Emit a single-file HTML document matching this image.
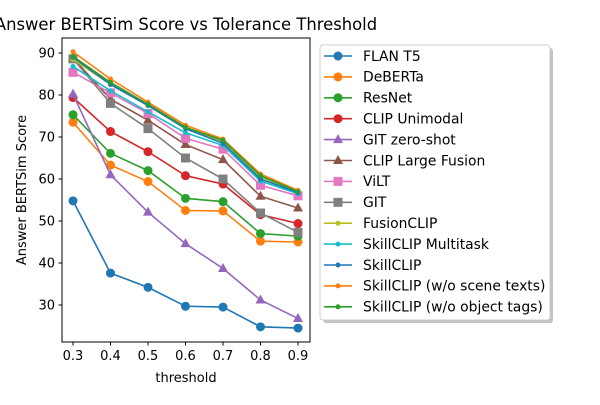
<!DOCTYPE html>
<html><head><meta charset="utf-8"><style>
body{margin:0;background:#fff;}
svg{font-family:"DejaVu Sans","Liberation Sans",sans-serif;}
</style></head><body>
<svg id="c" width="600" height="400" viewBox="0 0 600 400" xmlns="http://www.w3.org/2000/svg">
<text x="186" y="30" font-size="16.4" text-anchor="middle">Answer BERTSim Score vs Tolerance Threshold</text>
<g id="plot"></g>
<rect x="62" y="38" width="248" height="304" fill="none" stroke="#000" stroke-width="1"/>
<text x="186" y="382" font-size="13" text-anchor="middle">threshold</text>
<text transform="translate(26,190) rotate(-90)" font-size="13" text-anchor="middle">Answer BERTSim Score</text>
<g id="legend"></g>
</svg>
<script>
const thresholds=[0.3,0.4,0.5,0.6,0.7,0.8,0.9];
const yTicks=[30,40,50,60,70,80,90];
const seriesNames=["FLAN T5","DeBERTa","ResNet","CLIP Unimodal","GIT zero-shot","CLIP Large Fusion","ViLT","GIT","FusionCLIP","SkillCLIP Multitask","SkillCLIP","SkillCLIP (w/o scene texts)","SkillCLIP (w/o object tags)"];
const flanT5=[54.8,37.6,34.2,29.7,29.5,24.8,24.5];
const deberta=[73.5,63.3,59.4,52.5,52.4,45.2,45.0];
const resnet=[75.3,66.1,62.0,55.4,54.6,47.0,46.4];
const clipUni=[79.4,71.3,66.5,60.8,58.8,51.5,49.4];
const gitZero=[80.2,61.0,52.1,44.6,38.7,31.2,26.8];
const clipLarge=[88.8,79.0,74.0,68.2,64.6,55.9,53.1];
const vilt=[85.4,80.5,75.6,69.7,67.1,58.5,56.0];
const git=[88.6,78.0,72.0,65.0,60.0,51.9,47.3];
const fusionClip=[88.5,82.5,77.5,72.0,69.0,60.5,57.0];
const skillMulti=[86.8,81.0,76.0,71.0,68.0,59.5,56.5];
const skillClip=[89.0,82.5,77.5,72.0,68.5,60.0,56.8];
const skillNoScene=[90.3,83.8,78.3,72.8,69.5,61.2,57.3];
const skillNoObj=[89.2,83.0,77.8,72.3,69.2,60.8,57.0];
const seriesData=[flanT5,deberta,resnet,clipUni,gitZero,clipLarge,vilt,git,fusionClip,skillMulti,skillClip,skillNoScene,skillNoObj];
const colors=["#1f77b4","#ff7f0e","#2ca02c","#d62728","#9467bd","#8c564b","#e377c2","#7f7f7f","#bcbd22","#17becf","#1f77b4","#ff7f0e","#2ca02c"];
const markers=["o","o","o","o","^","^","s","s","p","p","p","p","p"];
const NS="http://www.w3.org/2000/svg";
const xs=v=>73+(v-0.3)*375;
const ys=v=>305-(v-30)*4.2;
function mk(t,a,p){const e=document.createElementNS(NS,t);for(const k in a)e.setAttribute(k,a[k]);p.appendChild(e);return e;}
function marker(type,x,y,c,p){
 if(type==="o")return mk("circle",{cx:x,cy:y,r:4.5,fill:c},p);
 if(type==="^")return mk("polygon",{points:`${x},${y-5.5} ${x-5},${y+3.5} ${x+5},${y+3.5}`,fill:c},p);
 if(type==="s")return mk("rect",{x:x-4.5,y:y-4.5,width:9,height:9,fill:c},p);
 return mk("circle",{cx:x,cy:y,r:2.5,fill:c},p);
}
const svg=document.getElementById('c');
const plot=document.getElementById('plot');
yTicks.forEach(t=>{const g=mk("g",{},svg);


mk("line",{x1:58.5,x2:62,y1:ys(t),y2:ys(t),stroke:"#000"},g);
const tx=mk("text",{x:55,y:ys(t)+4.5,"font-size":13,"text-anchor":"end"},g);tx.textContent=t;});
thresholds.forEach(t=>{const g=mk("g",{},svg);


mk("line",{x1:xs(t),x2:xs(t),y1:342,y2:345.5,stroke:"#000"},g);
const tx=mk("text",{x:xs(t),y:360,"font-size":13,"text-anchor":"middle"},g);tx.textContent=t.toFixed(1);});
seriesData.forEach((d,i)=>{const g=mk("g",{},plot);


mk("polyline",{points:d.map((v,j)=>xs(thresholds[j])+","+ys(v)).join(" "),fill:"none",stroke:colors[i],"stroke-width":1.6},g);
d.forEach((v,j)=>marker(markers[i],xs(thresholds[j]),ys(v),colors[i],g));});
const lg=document.getElementById('legend');
mk("rect",{x:323,y:48,width:230,height:275,rx:3,fill:"#999",opacity:0.6},lg);
mk("rect",{x:320,y:45,width:230,height:275,rx:3,fill:"#fff",stroke:"#ccc"},lg);
seriesNames.forEach((n,i)=>{const y=56+i*20.9;const g=mk("g",{},lg);


mk("line",{x1:324,x2:352,y1:y,y2:y,stroke:colors[i],"stroke-width":1.6},g);
marker(markers[i],338,y,colors[i],g);
const t=mk("text",{x:363,y:y+4.8,"font-size":13.9},g);t.textContent=n;});
</script>
</body></html>
